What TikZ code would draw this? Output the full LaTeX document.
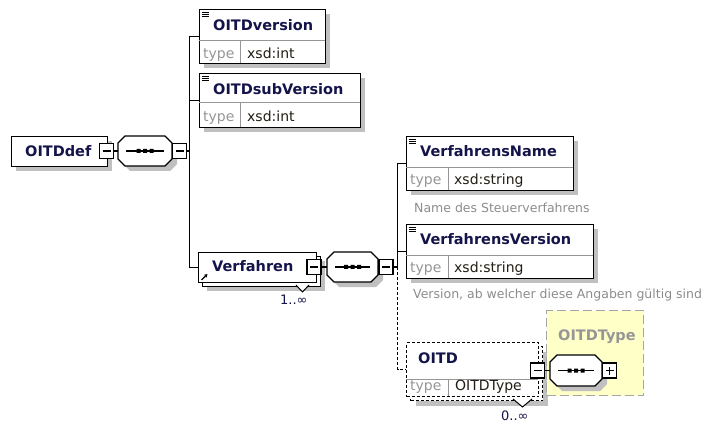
\documentclass[tikz,border=0pt]{standalone}
\usepackage{fontspec}
\newfontfamily\dvs{DejaVu Sans}
\usetikzlibrary{arrows.meta}
\definecolor{shadowc}{RGB}{192,192,192}
\definecolor{namec}{RGB}{20,20,75}
\definecolor{typec}{RGB}{35,30,20}
\definecolor{lblc}{RGB}{150,150,150}
\definecolor{annc}{RGB}{140,140,140}
\definecolor{divc}{RGB}{150,150,150}
\definecolor{yelc}{RGB}{255,255,200}
\definecolor{yelborder}{RGB}{165,165,165}
\tikzset{
 ebox/.style={draw=black, line width=1.3pt, fill=white, anchor=north west, inner sep=0pt, rectangle},
 shadowbox/.style={fill=shadowc, draw=none, anchor=north west, inner sep=0pt, rectangle},
 nametext/.style={anchor=base west, inner sep=0pt, text=namec, font=\dvs\bfseries\fontsize{14.5}{16}\selectfont},
 typetext/.style={anchor=base west, inner sep=0pt, text=typec, font=\dvs\fontsize{14}{16}\selectfont},
 lbltext/.style={typetext, text=lblc},
 anntext/.style={anchor=base west, inner sep=0pt, text=annc, font=\dvs\fontsize{12.5}{14}\selectfont},
 multtext/.style={anchor=base west, inner sep=0pt, text=namec, font=\dvs\fontsize{13}{14}\selectfont},
 conn/.style={line width=1.2pt, draw=black},
 optconn/.style={line width=1.2pt, draw=black, dash pattern=on 3pt off 2pt},
 pmbox/.style={draw=black, line width=1.2pt, fill=white, minimum width=14pt, minimum height=15pt, inner sep=0pt, rectangle},
 divline/.style={draw=divc, line width=0.9pt},
 iconline/.style={line width=0.9pt, draw=black},
 optbox/.style={ebox, dash pattern=on 3pt off 2pt},
}
\newcommand\seqoct[5]{%
 \begin{scope}[shift={(#2,#3)}]
  \pgfmathsetmacro\oa{#4/2}\pgfmathsetmacro\ob{#5/2}
  \fill[shadowc, shift={(5,5)}] (-\oa+7,-\ob) -- (\oa-7,-\ob) -- (\oa,-\ob+7) -- (\oa,\ob-7) -- (\oa-7,\ob) -- (-\oa+7,\ob) -- (-\oa,\ob-7) -- (-\oa,-\ob+7) -- cycle;
  \draw[line width=1.3pt, fill=white] (-\oa+7,-\ob) -- (\oa-7,-\ob) -- (\oa,-\ob+7) -- (\oa,\ob-7) -- (\oa-7,\ob) -- (-\oa+7,\ob) -- (-\oa,\ob-7) -- (-\oa,-\ob+7) -- cycle;
  \node[inner sep=0pt, minimum width=#4pt, minimum height=#5pt] (#1) at (0,0) {};
  \draw[line width=1.2pt] (-\oa+8,0) -- (\oa-8,0);
  \fill (-8.5,-2) rectangle (-4.5,2) (-2,-2) rectangle (2,2) (4.5,-2) rectangle (8.5,2);
 \end{scope}}
\newcommand\minusbox[3]{%
 \node[pmbox] (#1) at (#2,#3) {};
 \draw[line width=1.2pt] ([xshift=-4pt]#1.center) -- ([xshift=4pt]#1.center);}
\newcommand\plusbox[3]{%
 \node[pmbox] (#1) at (#2,#3) {};
 \draw[line width=1.2pt] ([xshift=-4pt]#1.center) -- ([xshift=4pt]#1.center) ([yshift=-4pt]#1.center) -- ([yshift=4pt]#1.center);}
\begin{document}
\begin{tikzpicture}[x=1pt,y=-1pt]
\useasboundingbox (0,0) rectangle (705,425);
% ---------- shadows ----------
\node[shadowbox, minimum width=96pt, minimum height=30pt] (d1s) at (16,141) {};
\node[shadowbox, minimum width=126pt, minimum height=54pt] (e1s) at (204,14) {};
\node[shadowbox, minimum width=161pt, minimum height=54pt] (e2s) at (204,78) {};
\node[shadowbox, minimum width=118pt, minimum height=30pt] (vfs) at (207,261) {};
\node[shadowbox, minimum width=167pt, minimum height=54pt] (e3s) at (411,141) {};
\node[shadowbox, minimum width=187pt, minimum height=54pt] (e4s) at (411,229) {};
\node[shadowbox, minimum width=132pt, minimum height=54pt] (oitds) at (416,352) {};
% ---------- yellow complex type ----------
\node[draw=yelborder, fill=yelc, dash pattern=on 9pt off 4pt, line width=1.3pt, anchor=north west, minimum width=97pt, minimum height=85pt, inner sep=0pt, rectangle] (yt) at (546,310) {};
\node[anchor=base west, inner sep=0pt, text=lblc, font=\dvs\bfseries\fontsize{14.5}{16}\selectfont] (ytl) at (558,340) {OITDType};
% ---------- root ----------
\node[ebox, minimum width=96pt, minimum height=30pt] (d1) at (11,136) {};
\node[nametext] (d1n) at (25,156.7) {OITDdef};
\minusbox{d1m}{106.5}{151}
\seqoct{s1}{145}{151}{54}{30}
\minusbox{s1m}{179.5}{151}
% ---------- OITDversion ----------
\node[ebox, minimum width=126pt, minimum height=54pt] (e1) at (199,9) {};
\draw[divline] (199,40.5) -- (325,40.5) (240,40.5) -- (240,63);
\draw[iconline] (201.5,12) -- (208.5,12) (201.5,14.2) -- (208.5,14.2) (201.5,16.4) -- (208.5,16.4);
\node[nametext] (e1n) at (213,31) {OITDversion};
\node[lbltext] (e1l) at (203,58.5) {type};
\node[typetext] (e1t) at (247,58.5) {xsd:int};
% ---------- OITDsubVersion ----------
\node[ebox, minimum width=161pt, minimum height=54pt] (e2) at (199,73) {};
\draw[divline] (199,102) -- (360,102) (240,102) -- (240,127);
\draw[iconline] (201.5,76) -- (208.5,76) (201.5,78.2) -- (208.5,78.2) (201.5,80.4) -- (208.5,80.4);
\node[nametext] (e2n) at (213,95) {OITDsubVersion};
\node[lbltext] (e2l) at (203,121.5) {type};
\node[typetext] (e2t) at (247,121.5) {xsd:int};
% ---------- Verfahren ----------
\node[ebox, minimum width=118pt, minimum height=30pt] (vfb) at (202,256) {};
\node[ebox, minimum width=118pt, minimum height=30pt] (vf) at (198,252) {};
\node[nametext] (vfn) at (212,272) {Verfahren};
\draw[-{Stealth[length=3.5pt,width=4pt]}, line width=1.3pt] (201.5,280) -- (207.5,274);
\minusbox{vm}{314}{267}
\draw[line width=1pt, fill=white] (296,285) -- (302.5,292) -- (309,285);
\node[multtext] (vfmult) at (280,305) {1..∞};
\seqoct{s2}{352.5}{267}{51}{30}
\minusbox{s2m}{386}{267}
% ---------- VerfahrensName ----------
\node[ebox, minimum width=167pt, minimum height=54pt] (e3) at (406,136) {};
\draw[divline] (406,167) -- (573,167) (448,167) -- (448,190);
\draw[iconline] (408.5,139) -- (415.5,139) (408.5,141.2) -- (415.5,141.2) (408.5,143.4) -- (415.5,143.4);
\node[nametext] (e3n) at (420,156.7) {VerfahrensName};
\node[lbltext] (e3l) at (410,185) {type};
\node[typetext] (e3t) at (454,185) {xsd:string};
\node[anntext] (a1) at (414,212.7) {Name des Steuerverfahrens};
% ---------- VerfahrensVersion ----------
\node[ebox, minimum width=187pt, minimum height=54pt] (e4) at (406,224) {};
\draw[divline] (406,255) -- (593,255) (448,255) -- (448,278);
\draw[iconline] (408.5,227) -- (415.5,227) (408.5,229.2) -- (415.5,229.2) (408.5,231.4) -- (415.5,231.4);
\node[nametext] (e4n) at (420,245) {VerfahrensVersion};
\node[lbltext] (e4l) at (410,272.7) {type};
\node[typetext] (e4t) at (454,272.7) {xsd:string};
\node[anntext] (a2) at (413,298.5) {Version, ab welcher diese Angaben gültig sind};
% ---------- OITD ----------
\node[optbox, minimum width=132pt, minimum height=54pt] (oitdb) at (410,346) {};
\node[optbox, minimum width=132pt, minimum height=54pt] (oitd) at (406,342) {};
\draw[divline] (406,379) -- (538,379) (448,379) -- (448,396);
\node[nametext] (oitdn) at (418,363.3) {OITD};
\node[lbltext] (oitdl) at (410,390) {type};
\node[typetext] (oitdt) at (455,390) {OITDType};
\minusbox{om}{537.5}{370.5}
\draw[line width=1pt, fill=white] (513,399) -- (522.5,407) -- (532,399);
\node[multtext] (oitdmult) at (501,420) {0..∞};
\seqoct{s3}{576}{370.5}{52}{31}
\plusbox{s3p}{609.5}{370.5}
% ---------- connectors ----------
\draw[conn] (d1m.east) -- (s1.west);
\draw[conn] (s1m.east) -- ++(2,0) |- (e1.west);
\draw[conn] (s1m.east) -- ++(2,0) |- (e2.west);
\draw[conn] (s1m.east) -- ++(2,0) |- (vf.west);
\draw[conn] (vm.east) -- (s2.west);
\draw[conn] (s2m.east) -- ++(4,0) |- (e3.west);
\draw[conn] (s2m.east) -- ++(4,0) |- (e4.west);
\draw[optconn] ([xshift=4pt]s2m.east) |- (oitd.west);
\draw[conn] (om.east) -- (s3.west);
\end{tikzpicture}
\end{document}
